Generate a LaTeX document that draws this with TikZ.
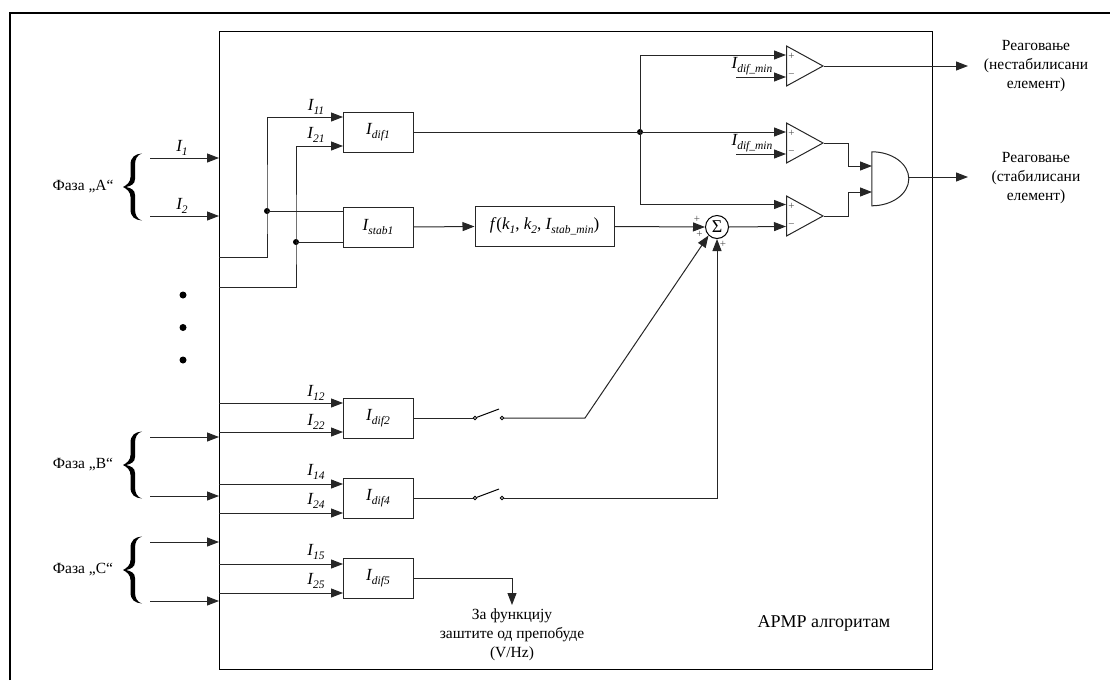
\documentclass[tikz,border=0pt]{standalone}
\usepackage{fontspec}
\setmainfont{Liberation Serif}
\usetikzlibrary{arrows.meta,shapes.geometric,calc}
\newcommand{\sub}[2]{\textit{#1\raisebox{-0.25em}{\fontsize{11.5}{11.5}\selectfont #2}}}
\tikzset{
 wire/.style={line width=1pt,black!85},
 arr/.style={wire,-{Triangle[length=12pt,width=9pt]}},
 blockbox/.style={draw=black!85,line width=1pt,minimum width=70pt,minimum height=40pt,inner sep=0pt,font=\fontsize{17}{17}\selectfont},
 fnbox/.style={blockbox,minimum width=139pt},
 lab/.style={inner sep=0pt,font=\fontsize{17}{17}\selectfont},
 txt/.style={inner sep=0pt,align=center,font=\fontsize{15.5}{19}\selectfont},
 bigtxt/.style={inner sep=0pt,font=\fontsize{18}{18}\selectfont},
 comp/.style={draw=black!85,line width=1pt,isosceles triangle,isosceles triangle stretches,shape border rotate=0,minimum width=40pt,minimum height=36.5pt,inner sep=0pt,anchor=lower side},
 sign/.style={inner sep=0pt,font=\fontsize{11}{11}\selectfont,text=black!70},
 dot/.style={circle,fill=black,inner sep=0pt,minimum size=6pt},
 bigdot/.style={circle,fill=black,inner sep=0pt,minimum size=7pt},
 contact/.style={circle,draw=black,line width=0.9pt,fill=white,inner sep=0pt,minimum size=3.5pt},
 sumnode/.style={circle,draw=black,line width=1pt,minimum size=23pt,inner sep=0pt,font=\fontsize{18}{18}\selectfont},
 hole/.style={inner sep=0pt,minimum width=37pt,minimum height=54pt}
}
\newcommand{\phasebrace}[1]{%
\fill[black,shift={(#1)}] (19,-33.5) .. controls (12,-33) and (7.5,-30) .. (7.5,-22) -- (7.5,-10)
 .. controls (7.5,-5) and (4,-2) .. (0,0) .. controls (4,2) and (7.5,5) .. (7.5,10) -- (7.5,22)
 .. controls (7.5,30) and (12,33) .. (19,33.5) .. controls (14,32) and (12,28) .. (12,22) -- (12,8)
 .. controls (12,3) and (8,1) .. (3,0) .. controls (8,-1) and (12,-3) .. (12,-8) -- (12,-22)
 .. controls (12,-28) and (14,-32) .. (19,-33.5) -- cycle;}
\begin{document}
\begin{tikzpicture}[x=1pt,y=-1pt]
\useasboundingbox (0,0) rectangle (1110,680);
% outer frame
\coordinate (ftl) at (10,13);
\coordinate (fbl) at (10,680);
\coordinate (ftr) at (1110,13);
\draw[line width=2pt,black] (fbl) -- (ftl) -- (ftr);
% inner frame
\node[draw=black,line width=0.9pt,minimum width=713pt,minimum height=638pt,inner sep=0pt] (inner) at (575.5,350) {};
% braces
\phasebrace{123,187}
\phasebrace{123,465}
\phasebrace{123,570}
\node[txt] (pa) at (83,187) {Фаза „А“};
\node[txt] (pb) at (83,465) {Фаза „В“};
\node[txt] (pc) at (83,570) {Фаза „С“};
% external inputs
\foreach \n/\y in {a/158,b/216,c/437,d/496,e/542,f/601}{
 \coordinate (s\n) at (150,\y);
 \coordinate (t\n) at (219,\y);
 \draw[arr] (s\n) -- (t\n);
}
\node[lab] (li1) at (182,148) {\sub{I}{1}};
\node[lab] (li2) at (182,206) {\sub{I}{2}};
% dots
\node[bigdot] (d1) at (183,295) {};
\node[bigdot] (d2) at (183,327.5) {};
\node[bigdot] (d3) at (183,360) {};
% blocks
\node[blockbox] (dif1) at (378,132) {\sub{I}{dif1}};
\node[blockbox] (stab1) at (378,227) {\sub{I}{stab1}};
\node[blockbox] (dif2) at (378,418) {\sub{I}{dif2}};
\node[blockbox] (dif4) at (378,498) {\sub{I}{dif4}};
\node[blockbox] (dif5) at (378,578) {\sub{I}{dif5}};
\node[fnbox] (fn) at (544.5,226.5) {\textit{f}(\sub{k}{1}, \sub{k}{2}, \sub{I}{stab\_min})};
% bus wires to dif1 / stab1
\coordinate (b1s) at (219,257);
\coordinate (b2s) at (219,287);
\coordinate (p11) at (343,117);
\coordinate (p21) at (343,146);
\node[dot] (j1) at (267,211) {};
\node[dot] (j2) at (296,242) {};
\draw[arr] (b1s) -| (j1.center) |- (p11);
\draw[arr] (b2s) -| (j2.center) |- (p21);
\draw[wire] (j1.center) -- (stab1.west |- j1);
\draw[wire] (j2.center) -- (stab1.west |- j2);
\node[lab] (l11) at (316,107) {\sub{I}{11}};
\node[lab] (l21) at (316,135) {\sub{I}{21}};
% lower inputs
\foreach \n/\y in {12/403,22/432,14/484,24/513,15/564,25/593}{
 \coordinate (q\n) at (219,\y);
 \coordinate (r\n) at (343,\y);
 \draw[arr] (q\n) -- (r\n);
}
\node[lab] (l12) at (316,393) {\sub{I}{12}};
\node[lab] (l22) at (316,422) {\sub{I}{22}};
\node[lab] (l14) at (316,472) {\sub{I}{14}};
\node[lab] (l24) at (316,501) {\sub{I}{24}};
\node[lab] (l15) at (316,552) {\sub{I}{15}};
\node[lab] (l25) at (316,581) {\sub{I}{25}};
% comparators
\node[comp] (c1) at (786,66) {};
\node[comp] (c2) at (786,143) {};
\node[comp] (c3) at (786,216) {};
\foreach \c/\y in {c1/66,c2/143,c3/216}{
 \node[sign] at (791.5,\y-9.5) {+};
 \node[sign] at (791.5,\y+10) {−};
}
% junction and comparator wires
\node[dot] (j3) at (640,132) {};
\coordinate (c1p) at (786,55);
\coordinate (c1m) at (786,77);
\coordinate (c2p) at (786,132);
\coordinate (c2m) at (786,154);
\coordinate (c3p) at (786,204.5);
\coordinate (c3m) at (786,226.5);
\coordinate (m1s) at (736,77);
\coordinate (m2s) at (736,154);
\draw[wire] (dif1.east) -- (j3.center);
\draw[arr] (j3.center) -- (c2p);
\draw[arr] (j3.center) |- (c1p);
\draw[arr] (j3.center) |- (c3p);
\draw[arr] (m1s) -- (c1m);
\draw[arr] (m2s) -- (c2m);
\node[lab] (ld1) at (752,66) {\sub{I}{dif\_min}};
\node[lab] (ld2) at (752,143) {\sub{I}{dif\_min}};
% sum
\node[sumnode] (sum) at (717,227) {Σ};
\node[sign] at (697,219) {+};
\node[sign] at (699.5,234.5) {+};
\node[sign] at (723,244) {+};
\draw[arr] (stab1.east) -- (fn.west);
\draw[arr] (fn.east) -- (sum.west);
\draw[arr] (sum.east) -- (c3m);
% switches
\node[contact] (sw2a) at (475,418) {};
\node[contact] (sw2b) at (502,418) {};
\node[contact] (sw4a) at (475,498) {};
\node[contact] (sw4b) at (502,498) {};
\coordinate (bl2) at (499,409);
\coordinate (bl4) at (499,489);
\coordinate (kn) at (585,418);
\coordinate (sb) at (717,498);
\draw[wire] (dif2.east) -- (sw2a);
\draw[wire] (dif4.east) -- (sw4a);
\draw[wire,black] (sw2a) -- (bl2);
\draw[wire,black] (sw4a) -- (bl4);
\draw[arr] (sw2b) -- (kn) -- (sum.south west);
\draw[arr] (sw4b) -- (sb) -- (sum.south);
% dif5 output
\coordinate (o5) at (512,605);
\draw[arr] (dif5.east) -| (o5);
\node[txt] (t5) at (512,634.5) {За функцију\\заштите од препобуде\\(V/Hz)};
\node[bigtxt] (alg) at (824,623) {АРМР алгоритам};
% AND gate
\node[hole] (gate) at (890.5,179) {};
\draw[line width=1pt,black!85] (gate.north west) arc[start angle=90,end angle=-90,x radius=37pt,y radius=27pt] -- cycle;
\coordinate (g1) at (872,166);
\coordinate (g2) at (872,192);
\coordinate (gm) at (848,179);
\draw[arr] (c2.apex) -| (gm |- g1) -- (g1);
\draw[arr] (c3.apex) -| (gm |- g2) -- (g2);
% outputs
\coordinate (o1) at (968,66);
\coordinate (o2) at (968,177);
\coordinate (ga) at (909,177);
\draw[arr] (c1.apex) -- (o1);
\draw[arr] (ga) -- (o2);
\node[txt] (r1) at (1036,66) {Реаговање\\(нестабилисани\\елемент)};
\node[txt] (r2) at (1036,178) {Реаговање\\(стабилисани\\елемент)};
\end{tikzpicture}
\end{document}
